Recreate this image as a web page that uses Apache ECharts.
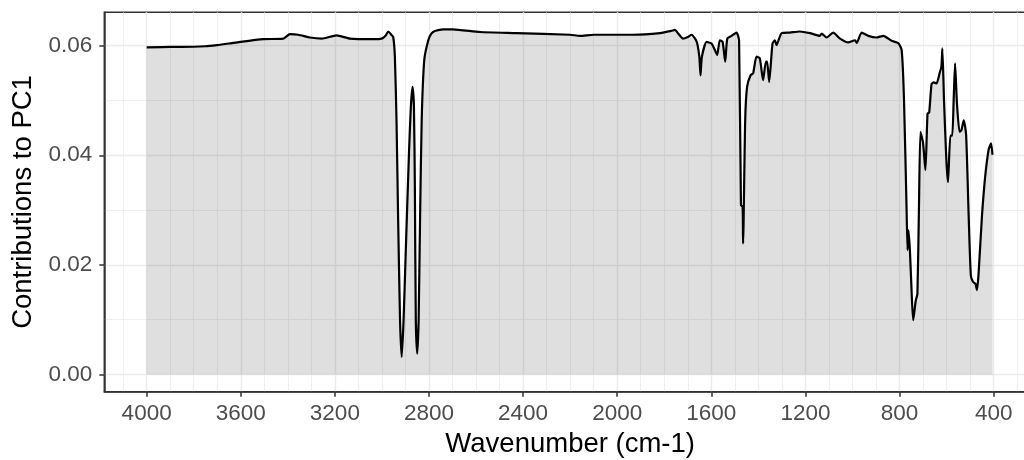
<!DOCTYPE html>
<html>
<head>
<meta charset="utf-8">
<script src="https://cdn.jsdelivr.net/npm/echarts@6/dist/echarts.min.js"></script>
<style>
html,body{margin:0;padding:0;background:#fff;overflow:hidden;}
#chart{width:1024px;height:460px;}
</style>
</head>
<body>
<div id="chart"></div>
<script>
// Wavenumbers (cm-1), descending
const wavenumbers = [4000,3900,3850,3750,3702,3650,3603,3504,3419,3391,3356,3306,3256,3193,3136,3037,3001,2985,2973,2960,2952,2945,2938,2931,2923,2916,2908,2899,2885,2877,2870,2864,2860,2856,2850,2844,2838,2831,2820,2803,2790,2775,2739,2700,2583,2428,2200,2159,2100,1932,1818,1770,1755,1740,1720,1700,1684,1662,1651,1646,1640,1620,1599,1585,1575,1564,1552,1541,1532,1514,1493,1482,1474,1467,1465,1456,1448,1433,1422,1408,1394,1380,1368,1363,1354,1340,1330,1323,1301,1266,1224,1181,1139,1131,1110,1082,1053,1018,989,982,961,933,897,869,834,806,791,781,770,766,762,756,749,742,731,724,717,711,700,690,681,674,664,655,643,629,622,618,611,601,594,584,576,570,564,556,545,537,527,517,506,497,488,477,471,464,450,436,421,411,405];
// Contributions to PC1
const contributions = [0.0597,0.0598,0.0598,0.0599,0.0601,0.0604,0.0607,0.0612,0.0613,0.0621,0.0620,0.0615,0.0613,0.0619,0.0613,0.0612,0.0613,0.0618,0.0626,0.0620,0.0616,0.0580,0.0464,0.0281,0.0099,0.0032,0.0099,0.0221,0.0404,0.0489,0.0525,0.0489,0.0342,0.0099,0.0038,0.0099,0.0281,0.0464,0.0574,0.0610,0.0622,0.0627,0.0630,0.0630,0.0625,0.0623,0.0620,0.0618,0.0620,0.0620,0.0623,0.0627,0.0629,0.0622,0.0613,0.0616,0.0620,0.0607,0.0580,0.0546,0.0580,0.0607,0.0604,0.0592,0.0583,0.0610,0.0607,0.0571,0.0613,0.0618,0.0624,0.0610,0.0309,0.0306,0.0239,0.0464,0.0525,0.0546,0.0550,0.0580,0.0577,0.0537,0.0571,0.0571,0.0534,0.0604,0.0610,0.0601,0.0623,0.0624,0.0626,0.0623,0.0618,0.0622,0.0615,0.0624,0.0613,0.0606,0.0610,0.0605,0.0624,0.0618,0.0615,0.0618,0.0609,0.0605,0.0592,0.0501,0.0300,0.0227,0.0263,0.0227,0.0154,0.0099,0.0135,0.0147,0.0318,0.0443,0.0422,0.0373,0.0476,0.0478,0.0530,0.0533,0.0531,0.0551,0.0562,0.0595,0.0501,0.0391,0.0351,0.0436,0.0436,0.0500,0.0568,0.0495,0.0443,0.0446,0.0464,0.0437,0.0287,0.0181,0.0169,0.0165,0.0154,0.0184,0.0287,0.0361,0.0411,0.0422,0.0401];
// Axis breaks
const xMajorTicks = [4000,3600,3200,2800,2400,2000,1600,1200,800,400];
const xMinorTicks = [];
for (let w = 4100; w >= 300; w -= 100) { if (w % 400 !== 0) xMinorTicks.push(w); }
const yMajorTicks = [0, 0.02, 0.04, 0.06];
const yMinorTicks = [0.01, 0.03, 0.05];

const seriesData = wavenumbers.map((w, i) => [w, contributions[i]]);

const FONT = 'Liberation Sans, Arial, sans-serif';
const xMin = 220, xMax = 4180, yMin = -0.00315, yMax = 0.0661;

const chart = echarts.init(document.getElementById('chart'), null, {renderer: 'canvas'});
chart.setOption({
  animation: false,
  backgroundColor: '#ffffff',
  grid: {left: 104.3, top: 12.3, width: 931.7, bottom: 68.3, show: true,
         outerBoundsMode: 'none', containLabel: false,
         borderColor: '#333333', borderWidth: 1.5, backgroundColor: '#ffffff'},
  xAxis: [{
    type: 'value', inverse: true, min: xMin, max: xMax, position: 'bottom',
    name: 'Wavenumber (cm-1)', nameLocation: 'middle', nameGap: 34,
    nameTextStyle: {fontFamily: FONT, fontSize: 27.5, color: '#000'},
    axisLine: {show: true, onZero: false, lineStyle: {color: '#333333', width: 1.5}},
    axisTick: {show: true, length: 5, lineStyle: {color: '#333333', width: 1.5}, customValues: xMajorTicks},
    axisLabel: {show: true, margin: 11, fontFamily: FONT, fontSize: 22.5, color: '#4d4d4d',
                customValues: xMajorTicks, formatter: v => String(v)},
    splitLine: {show: true, lineStyle: {color: '#ebebeb', width: 1.4}},
    minorTick: {show: false}, minorSplitLine: {show: false}
  }, {
    type: 'value', inverse: true, min: xMin, max: xMax, position: 'bottom',
    axisLine: {show: false}, axisLabel: {show: false},
    axisTick: {show: false, customValues: xMinorTicks},
    splitLine: {show: true, lineStyle: {color: '#ebebeb', width: 0.8}}
  }],
  yAxis: [{
    type: 'value', min: yMin, max: yMax, position: 'left',
    name: 'Contributions to PC1', nameLocation: 'middle', nameGap: 64, nameRotate: 90,
    nameTextStyle: {fontFamily: FONT, fontSize: 27.5, color: '#000'},
    axisLine: {show: true, onZero: false, lineStyle: {color: '#333333', width: 1.5}},
    axisTick: {show: true, length: 5, lineStyle: {color: '#333333', width: 1.5}, customValues: yMajorTicks},
    axisLabel: {show: true, margin: 12, fontFamily: FONT, fontSize: 22.5, color: '#4d4d4d',
                customValues: yMajorTicks, formatter: v => v.toFixed(2)},
    splitLine: {show: true, lineStyle: {color: '#ebebeb', width: 1.4}}
  }, {
    type: 'value', min: yMin, max: yMax, position: 'left',
    axisLine: {show: false}, axisLabel: {show: false},
    axisTick: {show: false, customValues: yMinorTicks},
    splitLine: {show: true, lineStyle: {color: '#ebebeb', width: 0.8}}
  }],
  series: [{
    type: 'line', xAxisIndex: 0, yAxisIndex: 0,
    data: seriesData, showSymbol: false, symbol: 'none',
    smooth: 0.2,
    lineStyle: {color: '#000000', width: 2.2, join: 'round'},
    areaStyle: {color: 'rgba(0,0,0,0.125)', opacity: 1, origin: 0},
    silent: true
  }]
});
</script>
</body>
</html>
